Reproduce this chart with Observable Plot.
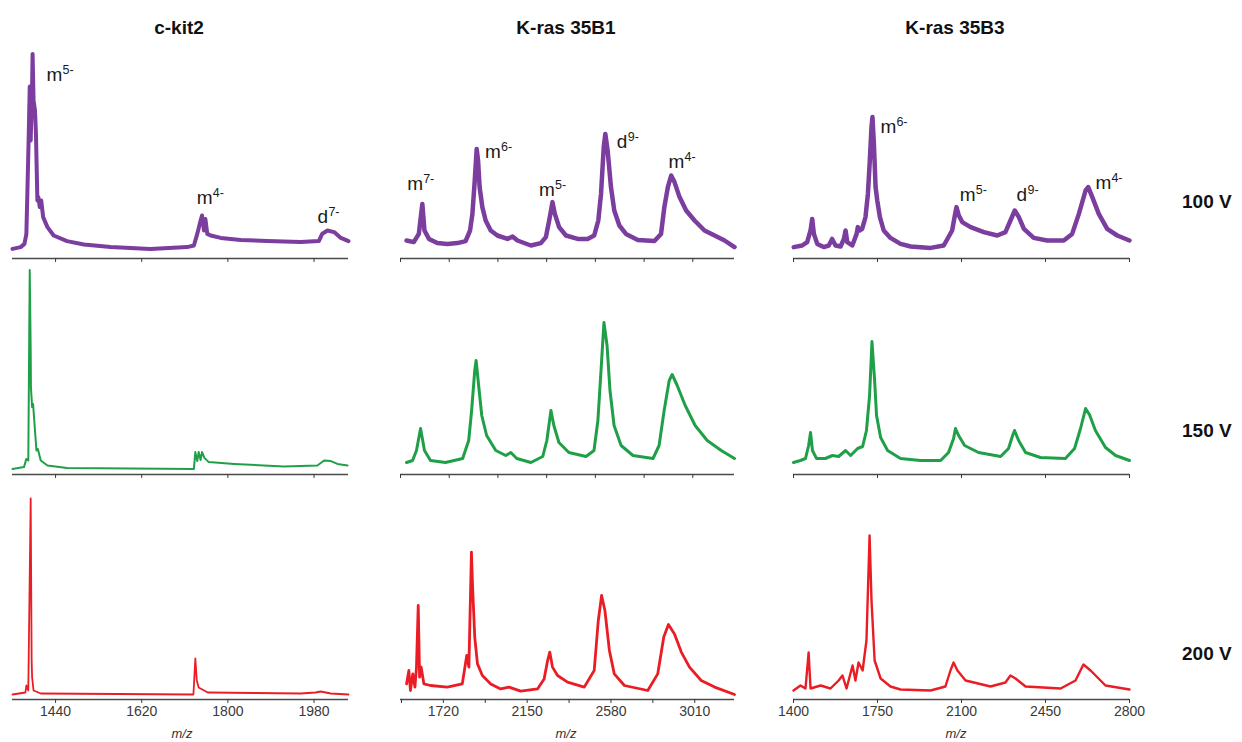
<!DOCTYPE html>
<html>
<head>
<meta charset="utf-8">
<script src="https://cdn.jsdelivr.net/npm/d3@7"></script>
<script src="https://cdn.jsdelivr.net/npm/@observablehq/plot@0.6"></script>
<style>
  body { margin: 0; background: #fff; font-family: "Liberation Sans", Arial, Helvetica, sans-serif; }
  #fig { position: relative; width: 1242px; height: 742px; overflow: hidden; background: #fff; }
  .panel { position: absolute; }
  .title { position: absolute; font-weight: bold; font-size: 19px; color: #111; white-space: nowrap; transform: translate(-50%, -50%); }
  .volt { position: absolute; font-weight: bold; font-size: 19px; color: #111; white-space: nowrap; transform: translateY(-50%); }
  .mz { position: absolute; font-style: italic; font-size: 13px; color: #333; white-space: nowrap; transform: translate(-50%, -50%); }
</style>
</head>
<body>
<div id="fig"></div>
<script>
// Sample names (columns) and cone voltages (rows)
const samples = ["c-kit2", "K-ras 35B1", "K-ras 35B3"];
const voltages = ["100 V", "150 V", "200 V"];
const traceColors = ["#7b3d9e", "#1fa048", "#ea1c24"];

// m/z axis domains and ticks
const mzDomains = [[1350, 2052], [1500, 3214], [1400, 2800]];
const ticksCkit = [1440, 1620, 1800, 1980];
const ticks35B1Upper = [1500, 1750, 2000, 2250, 2500, 2750, 3000];
const ticks35B1Lower = [1505, 1720, 1935, 2150, 2365, 2580, 2795, 3010];
const labels35B1Lower = [1720, 2150, 2580, 3010];
const ticks35B3 = [1400, 1750, 2100, 2450, 2800];

// Spectra: [m/z, relative intensity]
const ckit100 = [[1350,4.8],[1367,5.7],[1375,7.3],[1379,12.3],[1384,62.3],[1386,86],[1388,59],[1391,87.3],[1392,102.3],[1394,79],[1397,74],[1399,62.3],[1402,29],[1404,30.7],[1407,25.7],[1410,29],[1414,20.7],[1423,15.7],[1436,11.5],[1464,8.7],[1499,7],[1555,5.7],[1638,4.8],[1715,5.7],[1729,6.5],[1736,12.3],[1743,19],[1746,21.5],[1750,14],[1753,19.8],[1757,12.3],[1764,11.5],[1785,10.3],[1827,9.3],[1882,8.7],[1952,8.2],[1990,8.7],[1997,12.3],[2008,14],[2022,13.2],[2036,10.3],[2052,8.7]];
const ckit150 = [[1350,2.8],[1374,3.7],[1379,7.8],[1383,7],[1386,102.3],[1388,62],[1388.5,43.7],[1391,33.7],[1393,35.3],[1396,25.3],[1400,12],[1403,12.8],[1409,7],[1423,4.5],[1464,3.3],[1729,2.8],[1732,11.2],[1736,6.7],[1739,11.2],[1743,7.2],[1746,11.2],[1751,8.3],[1760,6.2],[1813,5.3],[1917,4],[1987,4.5],[2001,7],[2015,6.7],[2029,5.3],[2050,4.5]];
const ckit200 = [[1350,2.5],[1377,3.5],[1379,7],[1383,4.5],[1388,100.5],[1390,19.5],[1391,11],[1394,4.5],[1409,3],[1728,2.5],[1732,20.5],[1735,9.5],[1739,6],[1758,3.5],[1952,3],[1983,3.5],[1994,4],[2015,3],[2052,2.5]];

const kras1_100 = [[1531,9],[1568,8.2],[1594,12.3],[1612,27.3],[1623,14],[1646,9.8],[1689,7.7],[1740,7.3],[1792,7.7],[1834,8.7],[1857,14],[1869,22.3],[1881,39],[1891,54.8],[1898,49],[1906,35.7],[1920,25.7],[1937,19],[1963,14],[1997,11.5],[2049,9.8],[2075,11],[2100,9],[2169,6.5],[2220,7.7],[2246,10.7],[2263,19],[2280,28.2],[2292,22.3],[2314,15.7],[2349,11.5],[2409,9.8],[2460,9.8],[2494,11.5],[2515,19],[2529,32.3],[2543,55.7],[2551,62.3],[2563,54],[2580,35.7],[2597,24],[2623,16.5],[2657,12.3],[2718,9.3],[2803,8.7],[2837,12.3],[2854,25.7],[2872,35.7],[2889,41.5],[2906,38.2],[2932,30.7],[2966,24],[3009,19],[3060,14],[3112,11.5],[3163,9],[3214,5.7]];
const kras1_150 = [[1531,6],[1562,7],[1582,12],[1603,23],[1623,12],[1654,7],[1731,6],[1819,8],[1850,17],[1865,32],[1881,52],[1888,57],[1901,44.5],[1917,29.5],[1942,19.5],[1989,12],[2040,9.5],[2066,11],[2097,8],[2169,6],[2230,9],[2251,17],[2272,32],[2287,24.5],[2313,16],[2364,11],[2452,9],[2493,12],[2513,27],[2529,52],[2544,76],[2560,64.5],[2575,42],[2596,24.5],[2632,14.5],[2693,9.5],[2796,8],[2827,14.5],[2853,32],[2879,47],[2894,50],[2920,44.5],[2961,34.5],[3012,24.5],[3074,17],[3146,12],[3214,8]];
const kras1_200 = [[1531,7.8],[1543,14.5],[1551,4.5],[1563,12.8],[1574,6.2],[1582,16.2],[1591,47],[1598,11.2],[1606,16.2],[1620,7.8],[1654,7],[1740,6.2],[1817,7.8],[1840,22],[1851,16.2],[1864,73.7],[1870,56.2],[1881,31.2],[1895,17.8],[1920,12],[1963,7.8],[2014,5.3],[2057,6.2],[2117,4.2],[2203,5.3],[2237,10.3],[2255,19.5],[2266,23.7],[2280,16.2],[2306,12],[2357,8.7],[2443,6.2],[2494,14.5],[2515,39.5],[2532,52],[2549,44.5],[2572,24.5],[2597,12.8],[2649,7],[2769,4.5],[2820,12.8],[2851,31.2],[2875,37.5],[2906,32.8],[2941,23.7],[2983,16.2],[3043,9.5],[3112,6.2],[3214,2.5]];

const kras3_100 = [[1401,5.7],[1436,6.5],[1457,8.2],[1471,14],[1478,19.8],[1485,12.3],[1499,7.3],[1526,5.7],[1547,6.5],[1561,9.8],[1575,6.5],[1596,6],[1610,9.8],[1617,14],[1624,8.2],[1645,6.5],[1663,12.3],[1668,15.7],[1676,14],[1686,14.8],[1700,20.7],[1710,32.3],[1718,49],[1725,65.7],[1729,70.7],[1735,57.3],[1742,35.7],[1749,29],[1760,20.7],[1776,14],[1804,10.3],[1846,7.3],[1888,6],[1971,5.3],[2026,6.5],[2061,14],[2071,20.7],[2079,25.7],[2089,21.5],[2103,18.2],[2138,15.7],[2193,13.2],[2249,11.5],[2283,13.2],[2304,19],[2322,24],[2339,20.7],[2360,14.8],[2401,10.3],[2457,9],[2526,9],[2561,12.3],[2589,22.3],[2617,34],[2628,35.7],[2645,30.7],[2672,22.3],[2707,14.8],[2749,11.5],[2800,9]];
const kras3_150 = [[1400,6],[1429,7],[1450,8],[1463,14.5],[1471,21],[1479,12],[1496,8],[1533,8],[1562,9.5],[1588,9],[1617,12],[1638,9.5],[1667,13],[1688,14],[1704,22],[1717,39.5],[1727,66.5],[1738,47],[1746,29.5],[1763,18.5],[1792,12],[1846,8],[1929,7],[2013,7],[2046,11],[2067,18],[2075,23],[2088,19.5],[2113,14.5],[2171,11],[2263,9],[2296,13],[2313,19.5],[2321,22],[2338,17],[2367,11],[2429,8.5],[2533,8],[2571,13],[2596,23],[2617,33],[2633,30],[2658,22],[2700,13.5],[2742,9.5],[2800,7]];
const kras3_200 = [[1400,4.5],[1429,7],[1450,5.5],[1463,23.5],[1471,5.5],[1513,7],[1554,5.5],[1588,9.5],[1604,12],[1621,5.5],[1646,17],[1658,9.5],[1671,18.5],[1688,14.5],[1704,29.5],[1717,82],[1725,49.5],[1738,19.5],[1763,10.5],[1804,6.5],[1846,5],[1971,4.5],[2033,6.5],[2054,14.5],[2067,18.5],[2083,14.5],[2117,9.5],[2221,6.5],[2283,8.5],[2304,12],[2325,10.5],[2367,6.5],[2513,5.5],[2575,9.5],[2608,17.5],[2638,14.5],[2700,7],[2800,5]];

// Peak assignments (ion, charge), placed beside each peak
const peaksCkit = [
  {mz: 1421, y: 89, ion: "m", charge: "5-"},
  {mz: 1735, y: 27.5, ion: "m", charge: "4-"},
  {mz: 1987, y: 18, ion: "d", charge: "7-"}
];
const peaks35B1 = [
  {mz: 1534, y: 34.5, ion: "m", charge: "7-"},
  {mz: 1934, y: 50.5, ion: "m", charge: "6-"},
  {mz: 2211, y: 31.5, ion: "m", charge: "5-"},
  {mz: 2610, y: 55.5, ion: "d", charge: "9-"},
  {mz: 2875, y: 45.5, ion: "m", charge: "4-"}
];
const peaks35B3 = [
  {mz: 1762, y: 63, ion: "m", charge: "6-"},
  {mz: 2093, y: 29, ion: "m", charge: "5-"},
  {mz: 2329, y: 29, ion: "d", charge: "9-"},
  {mz: 2658, y: 35, ion: "m", charge: "4-"}
];

const spectra = [
  [ckit100, ckit150, ckit200],
  [kras1_100, kras1_150, kras1_200],
  [kras3_100, kras3_150, kras3_200]
];
const peakLabels = [peaksCkit, peaks35B1, peaks35B3];

// Page geometry
const colLeft = [12, 400, 793];
const colWidth = [336, 334, 336];
const rowAxisY = [258, 474, 699];
const PAD = 28, TOP = 12, PLOT_H = 210, BOT = 36;
const lineWidths = [[4, 2, 1.8], [4.5, 3, 2.8], [4.5, 3, 2.4]];

function tickSetup(ci, ri) {
  if (ci === 0) return {ticks: ticksCkit, fmt: ri === 2 ? (d => String(d)) : (() => "")};
  if (ci === 1) {
    if (ri === 2) return {ticks: ticks35B1Lower, fmt: d => labels35B1Lower.includes(d) ? String(d) : ""};
    return {ticks: ticks35B1Upper, fmt: () => ""};
  }
  return {ticks: ticks35B3, fmt: ri === 2 ? (d => String(d)) : (() => "")};
}

const fig = document.getElementById("fig");

for (let ci = 0; ci < 3; ci++) {
  for (let ri = 0; ri < 3; ri++) {
    const {ticks, fmt} = tickSetup(ci, ri);
    const marks = [
      Plot.ruleY([0], {stroke: "#4a4a4a", strokeWidth: 1.5}),
      Plot.axisX({ticks, tickFormat: fmt, tickSize: 4, tickPadding: 3, fontSize: 14, color: "#3a3a3a", label: null}),
      Plot.line(spectra[ci][ri], {x: d => d[0], y: d => d[1], stroke: traceColors[ri], strokeWidth: lineWidths[ci][ri], strokeLinejoin: "round"})
    ];
    if (ri === 0) {
      const pk = peakLabels[ci];
      marks.push(
        Plot.text(pk, {x: "mz", y: "y", text: "ion", textAnchor: "start", lineAnchor: "bottom", fontSize: 19, fill: "#1a1a1a"}),
        Plot.text(pk.filter(d => d.ion === "m"), {x: "mz", y: "y", text: "charge", textAnchor: "start", lineAnchor: "bottom", fontSize: 12.5, dx: 16, dy: -7, fill: "#1a1a1a"}),
        Plot.text(pk.filter(d => d.ion === "d"), {x: "mz", y: "y", text: "charge", textAnchor: "start", lineAnchor: "bottom", fontSize: 12.5, dx: 11, dy: -7, fill: "#1a1a1a"})
      );
    }
    const chart = Plot.plot({
      width: colWidth[ci] + 2 * PAD,
      height: TOP + PLOT_H + BOT,
      marginLeft: PAD, marginRight: PAD, marginTop: TOP, marginBottom: BOT,
      x: {domain: mzDomains[ci]},
      y: {domain: [0, 105], axis: null},
      style: {background: "none", fontFamily: "'Liberation Sans', Arial, sans-serif", overflow: "visible"},
      marks
    });
    const holder = document.createElement("div");
    holder.className = "panel";
    holder.style.left = (colLeft[ci] - PAD) + "px";
    holder.style.top = (rowAxisY[ri] - TOP - PLOT_H) + "px";
    holder.style.width = (colWidth[ci] + 2 * PAD) + "px";
    holder.appendChild(chart);
    fig.appendChild(holder);
  }
}

// Column titles
const titleX = [179, 566, 955];
samples.forEach((s, i) => {
  const el = document.createElement("div");
  el.className = "title";
  el.textContent = s;
  el.style.left = titleX[i] + "px";
  el.style.top = "28px";
  fig.appendChild(el);
});

// Voltage labels
const voltY = [202, 431, 654];
voltages.forEach((v, i) => {
  const el = document.createElement("div");
  el.className = "volt";
  el.textContent = v;
  el.style.left = "1182px";
  el.style.top = voltY[i] + "px";
  fig.appendChild(el);
});

// m/z axis titles
const mzX = [182, 566, 956];
mzX.forEach(x => {
  const el = document.createElement("div");
  el.className = "mz";
  el.textContent = "m/z";
  el.style.left = x + "px";
  el.style.top = "733px";
  fig.appendChild(el);
});
</script>
</body>
</html>
